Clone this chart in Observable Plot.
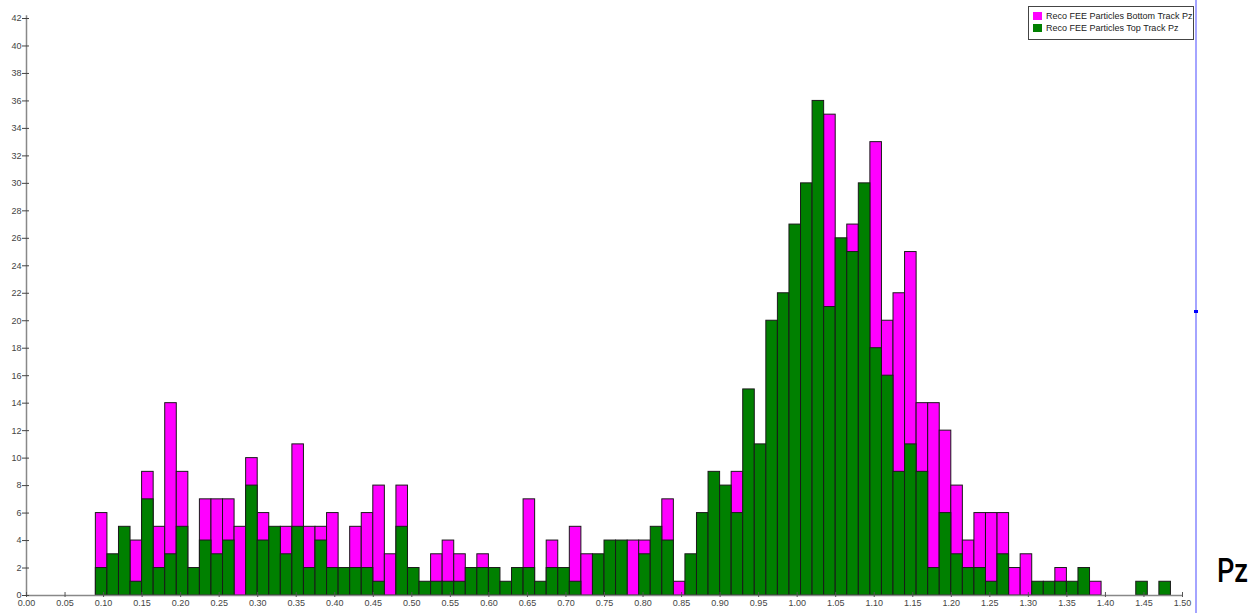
<!DOCTYPE html>
<html><head><meta charset="utf-8">
<script src="https://cdn.jsdelivr.net/npm/d3@7"></script>
<script src="https://cdn.jsdelivr.net/npm/@observablehq/plot@0.6"></script>
<style>
html,body{margin:0;padding:0;background:#fff;}
#wrap{position:relative;width:1250px;height:613px;overflow:hidden;font-family:"Liberation Sans",Arial,sans-serif;}
#wrap svg{position:absolute;left:0;top:0;}
.legend{position:absolute;left:1028px;top:6px;width:164px;height:32px;border:1px solid #444;background:#fff;font-size:9px;color:#222;}
.legend .row{position:absolute;left:4px;height:10px;line-height:10px;white-space:nowrap;}
.legend .sw{display:inline-block;width:9px;height:8px;vertical-align:middle;margin-right:4px;position:relative;top:-1px;}
.divider{position:absolute;left:1195px;top:0;width:2px;height:613px;background:#a4a4ff;}
.marker{position:absolute;left:1194px;top:310px;width:4px;height:3px;background:#0000ff;}
.xlabel{position:absolute;left:1217px;top:550px;font-family:Roboto,sans-serif;font-weight:500;font-size:34px;color:#000;transform:scaleX(0.8);transform-origin:0 0;white-space:nowrap;}
</style></head><body><div id="wrap"></div>
<script>
// Histogram: 100 bins of width 0.015 over [0, 1.5]; non-empty bins start at index 6
const binWidth = 0.015;
const firstBin = 6;
const seriesNames = ["Reco FEE Particles Bottom Track Pz", "Reco FEE Particles Top Track Pz"];
const seriesColors = ["#ff00ff", "#008000"];
// Top track counts, bins 6..98
const topCounts = [
  2, 3, 5, 1, 7, 2, 3, 5, 2, 4,
  3, 4, 0, 8, 4, 5, 3, 5, 2, 4,
  2, 2, 2, 2, 1, 0, 5, 2, 1, 1,
  1, 1, 2, 2, 2, 1, 2, 2, 1, 2,
  2, 1, 0, 3, 4, 4, 0, 3, 5, 4,
  0, 3, 6, 9, 8, 6, 15, 11, 20, 22,
  27, 30, 36, 21, 26, 25, 30, 18, 16, 9,
  11, 9, 2, 6, 3, 2, 2, 1, 3, 0,
  0, 1, 1, 1, 1, 2, 0, 0, 0, 0,
  1, 0, 1
];
// Bottom track counts, bins 6..98 (null = hidden behind the front green bar)
const bottomCounts = [
  6, null, null, 4, 9, 5, 14, 9, null, 7,
  7, 7, 5, 10, 6, null, 5, 11, 5, 5,
  6, null, 5, 6, 8, 3, 8, null, null, 3,
  4, 3, null, 3, null, null, null, 7, null, 4,
  null, 5, 3, null, null, null, 4, 4, null, 7,
  1, null, null, null, null, 9, null, null, null, null,
  null, null, null, 35, null, 27, null, 33, 20, 22,
  25, 14, 14, 12, 8, 4, 6, 6, 6, 2,
  3, null, null, 2, null, null, 1, null, null, null,
  null, null, null
];
const xTicks = d3.range(0, 31).map(i => i * 0.05);
const yTicks = d3.range(0, 22).map(i => i * 2);

function toBins(counts) {
  return counts.map((c, i) => ({
    x1: (firstBin + i) * binWidth,
    x2: (firstBin + i + 1) * binWidth,
    count: c
  })).filter(d => d.count != null && d.count > 0);
}
const bottomData = toBins(bottomCounts);
const topData = toBins(topCounts);

const chart = Plot.plot({
  width: 1250, height: 613,
  marginLeft: 26, marginRight: 68, marginTop: 18, marginBottom: 18,
  x: {domain: [0, 1.5]},
  y: {domain: [0, 42]},
  style: {fontFamily: '"Liberation Sans", Arial, sans-serif', fontSize: "9px", color: "#444", background: "transparent", overflow: "visible"},
  marks: [
    Plot.rectY(bottomData, {x1: "x1", x2: "x2", y1: 0, y2: "count", fill: seriesColors[0], stroke: "#1a1a1a", strokeWidth: 1}),
    Plot.rectY(topData, {x1: "x1", x2: "x2", y1: 0, y2: "count", fill: seriesColors[1], stroke: "#1a1a1a", strokeWidth: 1}),
    Plot.ruleY([0], {x1: 0, x2: 1.5, stroke: "#888", strokeWidth: 1.5}),
    Plot.ruleX([0], {y1: 0, y2: 42.2, stroke: "#888", strokeWidth: 1.5}),
    Plot.axisX({ticks: xTicks, tickFormat: d3.format(".2f"), tickSize: 5, tickPadding: 2, dy: -3, stroke: "#555", label: null, fill: "#444"}),
    Plot.axisY({ticks: yTicks, tickSize: 7, tickPadding: 1, dx: 3, stroke: "#444", label: null, fill: "#444"})
  ]
});
const wrap = document.getElementById("wrap");
wrap.appendChild(chart);

const legend = document.createElement("div");
legend.className = "legend";
seriesNames.forEach((name, i) => {
  const row = document.createElement("div");
  row.className = "row";
  row.style.top = (4 + i * 12) + "px";
  row.innerHTML = `<span class="sw" style="background:${seriesColors[i]}"></span>${name}`;
  legend.appendChild(row);
});
wrap.appendChild(legend);
const div = document.createElement("div"); div.className = "divider"; wrap.appendChild(div);
const mk = document.createElement("div"); mk.className = "marker"; wrap.appendChild(mk);
const xl = document.createElement("div"); xl.className = "xlabel"; xl.textContent = "Pz"; wrap.appendChild(xl);
</script>
</body></html>
